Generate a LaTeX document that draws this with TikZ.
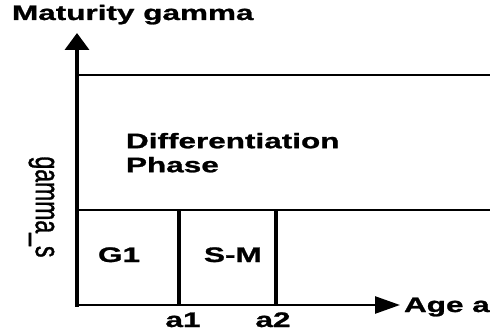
\documentclass[tikz,border=0pt]{standalone}
\usepackage{fontspec}
\setmainfont{Liberation Sans}
\newfontfamily\widefont[FakeStretch=1.5, FakeBold=1.2]{Liberation Sans}
\newfontfamily\sidefont[FakeBold=1.2]{Liberation Sans}
\usetikzlibrary{arrows.meta}

\begin{document}
\begin{tikzpicture}[x=1pt, y=1pt,
        every node/.style = {inner sep=0pt, outer sep=0pt},
        lbl/.style = {font=\widefont\bfseries\fontsize{21}{24}\selectfont},
        hline/.style = {line width=2.6pt},
        vline/.style = {line width=3.6pt, line cap=rect}]
  \useasboundingbox (0,0) rectangle (490,330);
  % axes
  \coordinate (O) at (77,25);
  \coordinate (ytip) at (77,297);
  \coordinate (xtip) at (400,25);
  \draw[vline, -{Triangle[length=17pt, width=24pt]}] (O) -- (ytip);
  \draw[hline, -{Triangle[length=25pt, width=17pt]}] (O) -- (xtip);
  % phase boundaries
  \coordinate (top0) at (77,255);
  \coordinate (top1) at (490,255);
  \coordinate (mid0) at (77,120);
  \coordinate (mid1) at (490,120);
  \coordinate (aone top) at (179,120);
  \coordinate (aone bot) at (179,25);
  \coordinate (atwo top) at (276,120);
  \coordinate (atwo bot) at (276,25);
  \draw[hline] (top0) -- (top1);
  \draw[hline] (mid0) -- (mid1);
  \draw[vline, line cap=butt] (aone top) -- (aone bot);
  \draw[vline, line cap=butt] (atwo top) -- (atwo bot);
  % labels
  \node[lbl, anchor=base west] (title) at (12,310) {Maturity gamma};
  \node[lbl, anchor=north west, align=left] (diffphase) at (126,197)
    {Differentiation\\Phase};
  \node[lbl, anchor=base west] (gone) at (98,68) {G1};
  \node[lbl, anchor=base west] (sm) at (204,68) {S-M};
  \node[lbl, anchor=base] (aone) at (183,3) {a1};
  \node[lbl, anchor=base] (atwo) at (273,3) {a2};
  \node[lbl, anchor=base west] (agelbl) at (404,18) {Age a};
  \node (gammas) at (41.5,123)
    {\scalebox{1.5}[1]{\rotatebox{-90}{\sidefont\fontsize{23}{26}\selectfont gamma\_s}}};
\end{tikzpicture}
\end{document}
